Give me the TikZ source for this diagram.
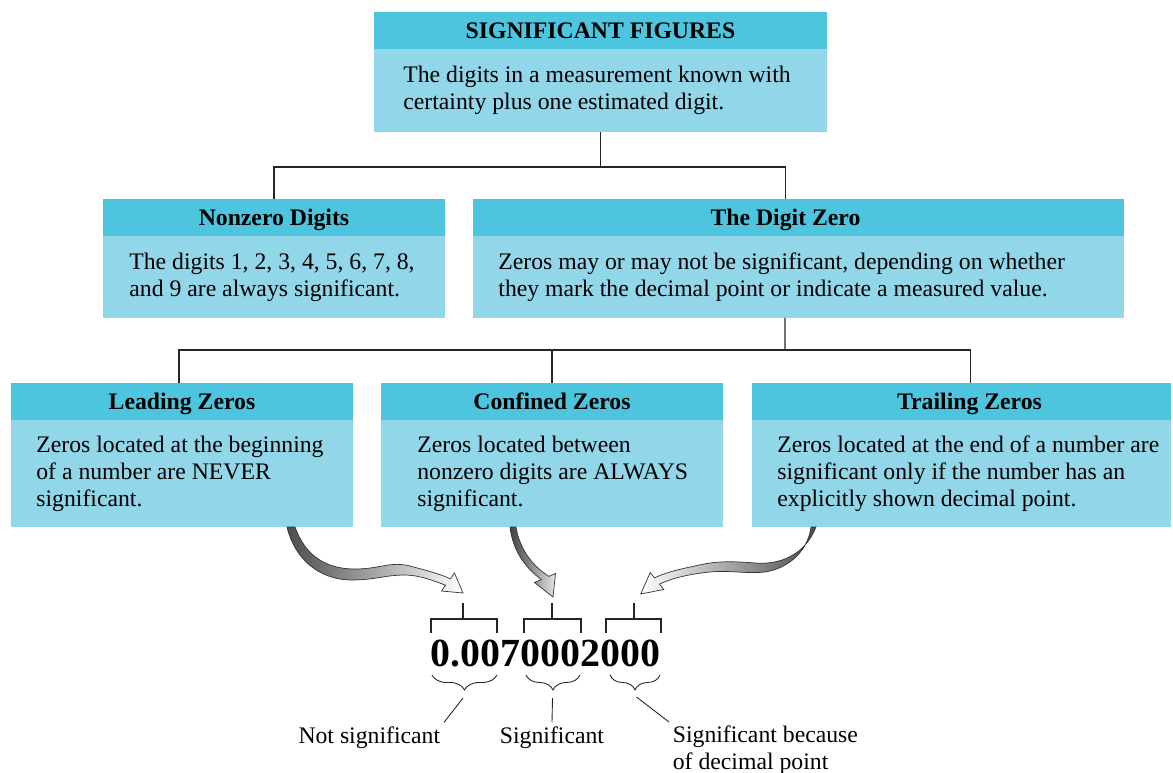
\documentclass[tikz,border=0pt]{standalone}
\usepackage{fontspec}
\setmainfont{Liberation Serif}
\usetikzlibrary{positioning,decorations.pathreplacing}
\definecolor{headcyan}{RGB}{77,197,222}
\definecolor{bodycyan}{RGB}{145,214,233}

\begin{document}
\begin{tikzpicture}[x=0.02cm,y=-0.02cm,
  head/.style={fill=headcyan, inner sep=0, outer sep=0, minimum height=0.74cm},
  body/.style={fill=bodycyan, inner sep=0, outer sep=0, below=0pt of #1},
  title/.style={inner sep=0, text height=8.9pt, text depth=0pt, font=\fontsize{13.5}{15.3}\selectfont\bfseries},
  txt/.style={inner sep=0, align=left, font=\fontsize{13.5}{15.3}\selectfont},
  lab/.style={inner sep=2pt, align=left, font=\fontsize{13.5}{15.3}\selectfont},
  link/.style={draw=black!85, line width=0.6pt},
  fat/.style={draw=black!80, line width=0.4pt}]
\useasboundingbox (0,0) rectangle (1173,772);

% top box
\node[head, minimum width=9.06cm] (sfHead) at (600.5,30.5) {};
\node[title] (sfTitle) at (sfHead.center) {SIGNIFICANT FIGURES};
\node[body=sfHead, minimum width=9.06cm, minimum height=1.66cm] (sfBody) {};
\node[txt, right=0.58cm of sfBody.west] (sfText) {The digits in a measurement known with\\certainty plus one estimated digit.};

% second row
\node[head, minimum width=6.84cm] (nzHead) at (274,217.5) {};
\node[title] (nzTitle) at (nzHead.center) {Nonzero Digits};
\node[body=nzHead, minimum width=6.84cm, minimum height=1.64cm] (nzBody) {};
\node[txt, right=0.52cm of nzBody.west] (nzText) {The digits 1, 2, 3, 4, 5, 6, 7, 8,\\and 9 are always significant.};

\node[head, minimum width=13.02cm] (dzHead) at (798.5,217.5) {};
\node[title] (dzTitle) at ([xshift=-0.26cm]dzHead.center) {The Digit Zero};
\node[body=dzHead, minimum width=13.02cm, minimum height=1.64cm] (dzBody) {};
\node[txt, right=0.5cm of dzBody.west] (dzText) {Zeros may or may not be significant, depending on whether\\they mark the decimal point or indicate a measured value.};

% third row
\node[head, minimum width=6.84cm] (ldHead) at (182,401.5) {};
\node[title] (ldTitle) at (ldHead.center) {Leading Zeros};
\node[body=ldHead, minimum width=6.84cm, minimum height=2.15cm] (ldBody) {};
\node[txt, right=0.5cm of ldBody.west] (ldText) {Zeros located at the beginning\\of a number are NEVER\\significant.};

\node[head, minimum width=6.84cm] (cfHead) at (552,401.5) {};
\node[title] (cfTitle) at (cfHead.center) {Confined Zeros};
\node[body=cfHead, minimum width=6.84cm, minimum height=2.15cm] (cfBody) {};
\node[txt, right=0.72cm of cfBody.west] (cfText) {Zeros located between\\nonzero digits are ALWAYS\\significant.};

\node[head, minimum width=8.38cm] (trHead) at (961.5,401.5) {};
\node[title] (trTitle) at ([xshift=0.16cm]trHead.center) {Trailing Zeros};
\node[body=trHead, minimum width=8.38cm, minimum height=2.15cm] (trBody) {};
\node[txt, right=0.5cm of trBody.west] (trText) {Zeros located at the end of a number are\\significant only if the number has an\\explicitly shown decimal point.};

% tree lines
\coordinate (j1) at (600,167);
\coordinate (j2) at (785,350);
\draw[link] (sfBody.south) -- (sfBody.south |- j1);
\draw[link] (nzHead.north) |- (j1) -| ([xshift=-0.26cm]dzHead.north);
\draw[link] ([xshift=-0.27cm]dzBody.south) -- (j2);
\draw[link] ([xshift=-0.06cm]ldHead.north) |- (j2) -| ([xshift=0.18cm]trHead.north);
\draw[link] (cfHead.north) -- (cfHead.north |- j2);

% the number
\node[inner sep=0, anchor=base, font=\fontsize{22.7}{26}\selectfont\bfseries] (num) at (545.4,666) {0.0070002000};
\foreach \l/\r/\m in {431/497/463, 524/581/552, 606/661/634}
  \draw[link] (\l,633) |- (\r,619) -- (\r,633) (\m,619) -- (\m,603);
\foreach \l/\r in {432/497, 526/580, 610/660}
  \draw[link, line width=0.5pt, decorate, decoration={brace, mirror, amplitude=8.5pt}] (\l,675) -- (\r,675);

% labels
\node[lab, anchor=base east] (nsLab) at (444,743) {Not significant};
\node[lab, anchor=base] (sgLab) at (552,743) {Significant};
\node[lab, anchor=north west] (sbLab) at (669,722) {Significant because\\of decimal point};
\draw[link, line width=0.5pt] (463,698) -- (nsLab.north east);
\draw[link, line width=0.5pt] (552.5,698) -- (sgLab.north);
\draw[link, line width=0.5pt] (636.5,697) -- (sbLab.north west);

% fat arrows
\shadedraw[fat, left color=black!70, right color=white]
  (295,527) .. controls (305,555) and (325,569) .. (355,569)
  .. controls (380,569) and (390,561) .. (410,566)
  .. controls (425,570) and (440,574) .. (450.4,578.8)
  -- (454.5,573) -- (463,593) -- (441.5,591) -- (445.6,585.2)
  .. controls (432,580) and (418,575) .. (405,575)
  .. controls (385,575) and (375,580) .. (352,580)
  .. controls (320,580) and (295,560) .. (287,527) -- cycle;
\shadedraw[fat, left color=black!75, right color=black!10]
  (516,527) .. controls (520,550) and (532,565) .. (548.7,576.4)
  -- (555.5,573.5) -- (553,597) -- (534.5,582.5) -- (541.3,579.6)
  .. controls (526,568) and (513,552) .. (510,527) -- cycle;
\shadedraw[fat, left color=white, right color=black!70]
  (816,527) .. controls (805,555) and (780,565) .. (755,563)
  .. controls (730,561) and (715,561) .. (695,566)
  .. controls (675,570) and (662,574) .. (654.5,577.9)
  -- (650.2,572.5) -- (640.7,594) -- (663.8,589.5) -- (659.5,584.1)
  .. controls (672,578) and (690,574) .. (710,572)
  .. controls (730,570) and (745,574) .. (765,572)
  .. controls (790,568) and (808,550) .. (811,527) -- cycle;
\end{tikzpicture}
\end{document}
